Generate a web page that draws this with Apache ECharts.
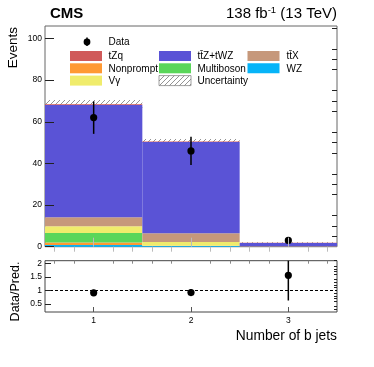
<!DOCTYPE html>
<html>
<head>
<meta charset="utf-8">
<script src="https://cdn.jsdelivr.net/npm/echarts@6/dist/echarts.min.js"></script>
<style>
  html, body { margin: 0; padding: 0; background: #fff; }
  #chart { width: 374px; height: 367px; }
</style>
</head>
<body>
<div id="chart"></div>
<script>
// bins of the b-jet multiplicity
const binCenters = [1, 2, 3]
const binLow = [0.5, 1.5, 2.5]
const binHigh = [1.5, 2.5, 3.5]

// predicted processes, stacked bottom to top
const wz = [0.8, 0.3, 0.0]
const nonprompt = [1.2, 0.1, 0.0]
const multiboson = [4.6, 0.1, 0.0]
const vgamma = [3.2, 1.8, 0.0]
const ttx = [4.3, 4.2, 0.2]
const ttzTwz = [54.0, 43.8, 1.6]
const tzq = [0.3, 0.2, 0.1]
const uncertainty = [2.0, 1.2, 0.2]

const dataValues = [62, 46, 3]
const dataErrLow = [7.8, 6.8, 0]
const dataErrHigh = [7.8, 6.8, 0]

const ratioValues = [0.91, 0.92, 1.56]
const ratioErrLow = [0.11, 0.13, 0.93]
const ratioErrHigh = [0.11, 0.13, 0.9]

const mainTicks = [0, 20, 40, 60, 80, 100]
const mainMinorTicks = [5, 10, 15, 25, 30, 35, 45, 50, 55, 65, 70, 75, 85, 90, 95, 105]
const ratioTicks = [0.5, 1, 1.5, 2]
const ratioMinorTicks = [0.3, 0.4, 0.6, 0.7, 0.8, 0.9, 1.1, 1.2, 1.3, 1.4, 1.6, 1.7, 1.8, 1.9, 2.1]
const xTicks = [1, 2, 3]
const xMinorTicks = [0.6, 0.8, 1.2, 1.4, 1.6, 1.8, 2.2, 2.4, 2.6, 2.8, 3.2, 3.4]

const stack = [
  { name: 'WZ', values: wz },
  { name: 'Nonprompt', values: nonprompt },
  { name: 'Multiboson', values: multiboson },
  { name: 'Vγ', values: vgamma },
  { name: 'tt̄X', values: ttx },
  { name: 'tt̄Z+tWZ', values: ttzTwz },
  { name: 'tZq', values: tzq }
]

const colors = {
  'tZq': '#d05a5a',
  'Nonprompt': '#ff9933',
  'Vγ': '#f0ec6c',
  'tt̄Z+tWZ': '#5a53d6',
  'Multiboson': '#5ad65a',
  'tt̄X': '#c6987b',
  'WZ': '#06b4f8'
}

const FONT = '"Liberation Sans", Arial, Helvetica, sans-serif'

// hatch pattern for the uncertainty band
const hatch = document.createElement('canvas')
hatch.width = 5
hatch.height = 5
const hctx = hatch.getContext('2d')
hctx.strokeStyle = '#777'
hctx.lineWidth = 0.8
hctx.beginPath()
hctx.moveTo(0, 5); hctx.lineTo(5, 0)
hctx.moveTo(-1, 1); hctx.lineTo(1, -1)
hctx.moveTo(4, 6); hctx.lineTo(6, 4)
hctx.stroke()
const hatchFill = { image: hatch, repeat: 'repeat' }

const rectRenderer = (fill) => (params, api) => {
  const p0 = api.coord([api.value(0), api.value(3)])
  const p1 = api.coord([api.value(1), api.value(2)])
  return {
    type: 'rect',
    shape: { x: p0[0], y: p0[1], width: p1[0] - p0[0], height: p1[1] - p0[1] },
    style: { fill: fill }
  }
}

const errRenderer = (params, api) => {
  const c = api.coord([api.value(0), api.value(1)])
  const lo = api.coord([api.value(0), api.value(1) - api.value(2)])
  const hi = api.coord([api.value(0), api.value(1) + api.value(3)])
  return {
    type: 'group',
    children: [
      { type: 'line', shape: { x1: c[0], y1: lo[1], x2: c[0], y2: hi[1] }, style: { stroke: '#000', lineWidth: 1.5 } },
      { type: 'circle', shape: { cx: c[0], cy: c[1], r: 3.6 }, style: { fill: '#000' } }
    ]
  }
}

const series = []

// uncertainty band first, so the stack covers its lower half
const totals = binCenters.map((_, i) => stack.reduce((s, p) => s + p.values[i], 0))
series.push({
  type: 'custom',
  name: 'Uncertainty',
  xAxisIndex: 0,
  yAxisIndex: 0,
  renderItem: rectRenderer(hatchFill),
  data: binCenters.map((_, i) => [binLow[i], binHigh[i], totals[i] - uncertainty[i], totals[i] + uncertainty[i]]),
  z: 1
})

const cumulative = [0, 0, 0]
stack.forEach((proc) => {
  const data = binCenters.map((_, i) => {
    const bottom = cumulative[i]
    cumulative[i] += proc.values[i]
    return [binLow[i], binHigh[i], bottom, cumulative[i]]
  })
  series.push({
    type: 'custom',
    name: proc.name,
    xAxisIndex: 0,
    yAxisIndex: 0,
    renderItem: rectRenderer(colors[proc.name]),
    data: data,
    z: 2
  })
})

series.push({
  type: 'custom',
  name: 'Data',
  xAxisIndex: 0,
  yAxisIndex: 0,
  renderItem: errRenderer,
  data: binCenters.map((x, i) => [x, dataValues[i], dataErrLow[i], dataErrHigh[i]]),
  z: 5
})

series.push({
  type: 'custom',
  name: 'Ratio',
  xAxisIndex: 2,
  yAxisIndex: 2,
  clip: true,
  renderItem: errRenderer,
  data: binCenters.map((x, i) => [x, ratioValues[i], ratioErrLow[i], ratioErrHigh[i]]),
  markLine: {
    silent: true,
    symbol: 'none',
    label: { show: false },
    lineStyle: { color: '#000', type: [3, 2], width: 1 },
    data: [{ yAxis: 1 }]
  },
  z: 5
})

// legend, drawn by hand in the CMS layout
const legendRows = [
  ['tZq', 'tt̄Z+tWZ', 'tt̄X'],
  ['Nonprompt', 'Multiboson', 'WZ'],
  ['Vγ', 'Uncertainty', null]
]
const legendGraphics = [
  { type: 'line', shape: { x1: 87, y1: 37.5, x2: 87, y2: 46 }, style: { stroke: '#000', lineWidth: 1.5 } },
  { type: 'circle', shape: { cx: 87, cy: 42, r: 3.4 }, style: { fill: '#000' } },
  { type: 'text', x: 108.5, y: 42.5, style: { text: 'Data', font: '10px ' + FONT, fill: '#000', verticalAlign: 'middle' } }
]
const colBox = [70, 159, 247.5]
const colText = [108.5, 197.5, 286.5]
const rowY = [56, 68.3, 80.6]
legendRows.forEach((row, r) => {
  row.forEach((name, c) => {
    if (!name) return
    const isUnc = name === 'Uncertainty'
    legendGraphics.push({
      type: 'rect',
      shape: { x: colBox[c], y: rowY[r] - 5, width: 32, height: 10 },
      style: isUnc ? { fill: hatchFill, stroke: '#888', lineWidth: 0.8 } : { fill: colors[name] }
    })
    legendGraphics.push({
      type: 'text', x: colText[c], y: rowY[r] + 0.5,
      style: { text: name, font: '10px ' + FONT, fill: '#000', verticalAlign: 'middle' }
    })
  })
})

const chart = echarts.init(document.getElementById('chart'), null, { renderer: 'canvas' })

const baseAxis = {
  axisLine: { show: false },
  splitLine: { show: false },
  axisLabel: { show: false },
  axisTick: { show: false },
  z: 10
}

chart.setOption({
  animation: false,
  grid: [
    { left: 45, top: 26, width: 292, height: 220.7, show: true, borderColor: '#666', borderWidth: 1, backgroundColor: 'transparent' },
    { left: 45, top: 260.7, width: 292, height: 51.3, show: true, borderColor: '#444', borderWidth: 1, backgroundColor: 'transparent' }
  ],
  xAxis: [
    { ...baseAxis, type: 'value', gridIndex: 0, min: 0.5, max: 3.5,
      axisTick: { show: true, inside: true, length: 9, customValues: xTicks, lineStyle: { color: '#bbb' } } },
    { ...baseAxis, type: 'value', gridIndex: 0, min: 0.5, max: 3.5,
      axisTick: { show: true, inside: true, length: 5, customValues: xMinorTicks, lineStyle: { color: '#bbb' } } },
    { ...baseAxis, type: 'value', gridIndex: 1, min: 0.5, max: 3.5,
      axisLabel: { show: true, customValues: xTicks, fontSize: 8.5, fontFamily: FONT, color: '#000', margin: 4 },
      axisTick: { show: true, inside: true, length: 5, customValues: xTicks, lineStyle: { color: '#555' } } },
    { ...baseAxis, type: 'value', gridIndex: 1, min: 0.5, max: 3.5,
      axisTick: { show: true, inside: true, length: 3, customValues: xMinorTicks, lineStyle: { color: '#888' } } }
  ],
  yAxis: [
    { ...baseAxis, type: 'value', gridIndex: 0, min: 0, max: 106,
      axisLabel: { show: true, customValues: mainTicks, fontSize: 8.5, fontFamily: FONT, color: '#000', margin: 3 },
      axisTick: { show: true, inside: true, length: 9, customValues: mainTicks, lineStyle: { color: '#222' } } },
    { ...baseAxis, type: 'value', gridIndex: 0, min: 0, max: 106,
      axisTick: { show: true, inside: true, length: 5, customValues: mainMinorTicks, lineStyle: { color: '#222' } } },
    { ...baseAxis, type: 'value', gridIndex: 1, min: 0.2, max: 2.1,
      axisLabel: { show: true, customValues: ratioTicks, fontSize: 8.5, fontFamily: FONT, color: '#000', margin: 3 },
      axisTick: { show: true, inside: true, length: 6, customValues: ratioTicks, lineStyle: { color: '#222' } } },
    { ...baseAxis, type: 'value', gridIndex: 1, min: 0.2, max: 2.1,
      axisTick: { show: true, inside: true, length: 3, customValues: ratioMinorTicks, lineStyle: { color: '#222' } } }
  ],
  graphic: [
    { type: 'text', x: 50, y: 14, style: { text: 'CMS', font: 'bold 15px ' + FONT, fill: '#000', verticalAlign: 'middle' } },
    { type: 'text', x: 337, y: 14, style: {
      text: '{a|138 fb}{s|-1}{a| (13 TeV)}', align: 'right', verticalAlign: 'middle',
      rich: {
        a: { fontSize: 15, fontFamily: FONT, fill: '#000' },
        s: { fontSize: 9.5, fontFamily: FONT, fill: '#000', verticalAlign: 'top', padding: [0, 0, 8, 0] }
      }
    } },
    { type: 'text', x: 13, y: 27, rotation: Math.PI / 2, style: { text: 'Events', font: '13.5px ' + FONT, fill: '#000', align: 'right', verticalAlign: 'middle' } },
    { type: 'text', x: 16, y: 291.5, rotation: Math.PI / 2, style: { text: 'Data/Pred.', font: '12.5px ' + FONT, fill: '#000', align: 'center', verticalAlign: 'middle' } },
    { type: 'text', x: 337, y: 336.5, style: { text: 'Number of b jets', font: '13.8px ' + FONT, fill: '#000', align: 'right', verticalAlign: 'middle' } },
    ...legendGraphics
  ],
  series: series
})
</script>
</body>
</html>
